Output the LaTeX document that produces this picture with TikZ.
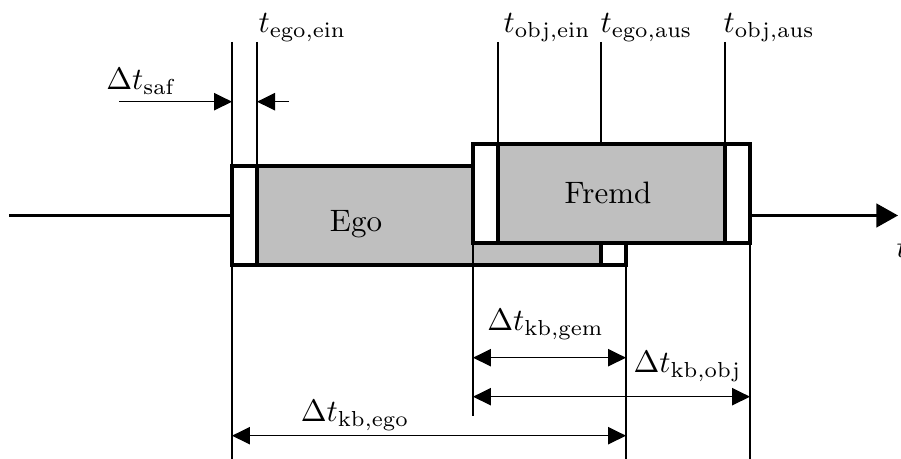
\documentclass[tikz,border=0pt]{standalone}
\usepackage{amsmath, amssymb}
\usepackage{xcolor}
\usepackage{tikz}
\usetikzlibrary{arrows.meta, positioning}
\definecolor{barcolor}{HTML}{BFBFBF}

\begin{document}
\begin{tikzpicture}[x=0.3226pt, y=-0.3226pt,
  bar/.style={rectangle, draw, line width=1.3pt, fill=barcolor, inner sep=0pt, outer sep=0pt, minimum height=31.94pt},
  strip/.style={rectangle, draw, line width=1.3pt, fill=white, inner sep=0pt, outer sep=0pt, minimum width=8.07pt, minimum height=31.94pt},
  guide/.style={line width=0.4pt},
  dim/.style={line width=0.4pt, -{Triangle[length=5.8pt, width=5.6pt]}},
  dimboth/.style={line width=0.4pt, {Triangle[length=5.8pt, width=5.6pt]}-{Triangle[length=5.8pt, width=5.6pt]}},
  lbl/.style={inner sep=0pt, anchor=base}]

  \useasboundingbox (0,0) rectangle (901,459);

  % Time axis
  \coordinate (A0) at (9,215.5);
  \coordinate (A1) at (898,215.5);
  \draw[line width=0.65pt, -{Triangle[length=7pt, width=7.7pt]}] (A0) -- (A1);
  \node[lbl, anchor=base west] (T) at (896,258) {$t$};

  % Ego vehicle
  \node[bar, minimum width=127.1pt] (E) at (429,215.5) {};
  \node[strip, anchor=west] (E1) at (E.west) {};
  \node[strip, anchor=east] (E2) at (E.east) {};
  \node[lbl] (Etxt) at (356,231.7) {Ego};

  % Fremd vehicle
  \node[bar, minimum width=89.36pt] (F) at (611.5,193.5) {};
  \node[strip, anchor=west] (F1) at (F.west) {};
  \node[strip, anchor=east] (F2) at (F.east) {};
  \node[lbl] (Ftxt) at (608,203.3) {Fremd};

  % Time marks
  \coordinate (top) at (0,42);
  \coordinate (bot) at (0,459);
  \coordinate (cut) at (0,416);
  \node[lbl, anchor=base west] (t1) at (258,33) {$t_{\mathrm{ego,ein}}$};
  \node[lbl, anchor=base west] (t2) at (503,33) {$t_{\mathrm{obj,ein}}$};
  \node[lbl, anchor=base west] (t3) at (600,33) {$t_{\mathrm{ego,aus}}$};
  \node[lbl, anchor=base west] (t4) at (723,33) {$t_{\mathrm{obj,aus}}$};

  \draw[guide] (E1.north west |- top) -- (E1.south west |- bot);
  \draw[guide] (E1.north east |- top) -- (E1.north east);
  \draw[guide] (F1.north east |- top) -- (F1.north east);
  \draw[guide] (E2.north west |- top) -- (E2.north west |- F.north);
  \draw[guide] (F2.north west |- top) -- (F2.north west);
  \draw[guide] (F.south west) -- (F.south west |- cut);
  \draw[guide] (E.south east) -- (E.south east |- bot);
  \draw[guide] (F.south east) -- (F.south east |- bot);

  % Safety time
  \coordinate (s0) at (119,101.7);
  \coordinate (s1) at (289,101.7);
  \draw[dim] (s0) -- (s0 -| E1.west);
  \draw[dim] (s1) -- (s1 -| E1.east);
  \node[lbl] (saf) at (141.5,90) {$\Delta t_{\mathrm{saf}}$};

  % Durations
  \coordinate (g) at (0,357.7);
  \coordinate (o) at (0,396.7);
  \coordinate (e) at (0,435.7);
  \draw[dimboth] (g -| F.west) -- (g -| E.east);
  \draw[dimboth] (o -| F.west) -- (o -| F.east);
  \draw[dimboth] (e -| E.west) -- (e -| E.east);
  \node[lbl] (gem) at (545.5,331) {$\Delta t_{\mathrm{kb,gem}}$};
  \node[lbl] (obj) at (687.5,373) {$\Delta t_{\mathrm{kb,obj}}$};
  \node[lbl] (ego) at (355,421.7) {$\Delta t_{\mathrm{kb,ego}}$};

\end{tikzpicture}
\end{document}
